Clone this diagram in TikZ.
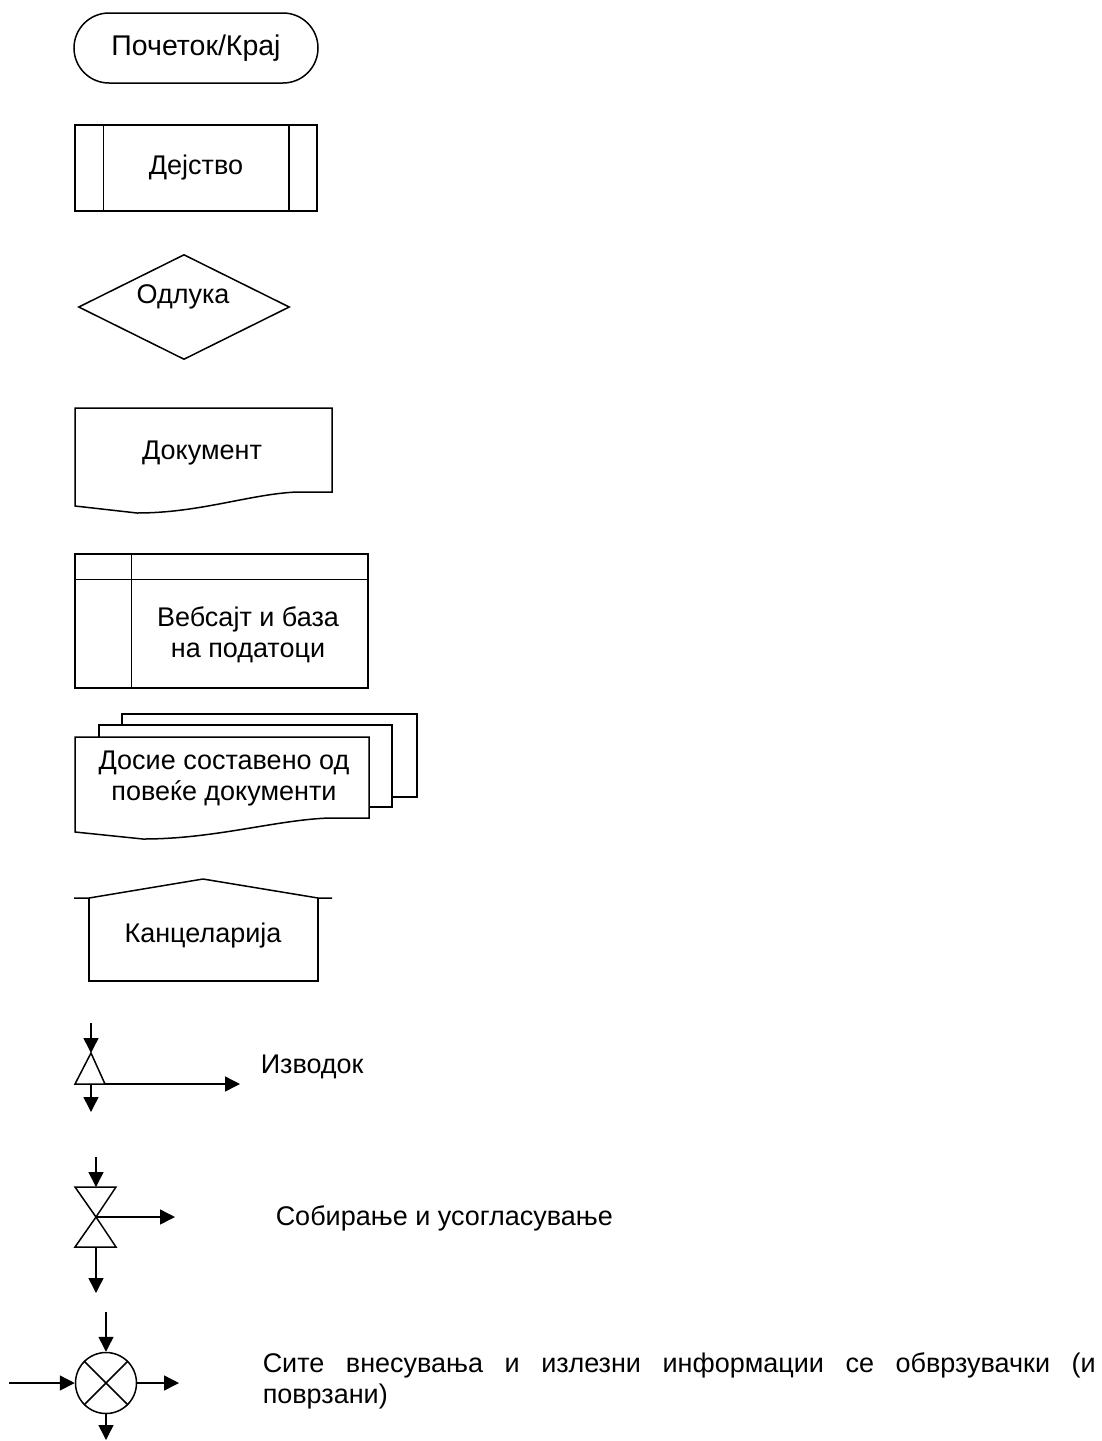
\documentclass[tikz,border=0pt]{standalone}
\usepackage{fontspec}
\setmainfont{Liberation Sans}
\usetikzlibrary{shapes.geometric,arrows.meta}

\begin{document}
\begin{tikzpicture}[x=1pt,y=-1pt,line width=1.5pt,font=\fontsize{27}{31}\selectfont] % легенда на симболи
\tikzstyle{mybox} = [draw, rectangle, inner sep=0pt] % обична рамка
\tikzstyle{myterm} = [draw, rectangle, rounded corners=35pt, minimum width=244pt, minimum height=70pt] % почеток/крај
\tikzstyle{mydec} = [draw, diamond, inner sep=0pt, minimum width=211pt, minimum height=105pt] % одлука
\tikzstyle{myarr} = [-{Triangle[length=15pt,width=15pt]}] % стрелка
\tikzstyle{mylabel} = [anchor=base west, inner sep=0pt] % текст десно од симболот
\useasboundingbox (0,0) rectangle (1102,1441);

\node[myterm, font=\fontsize{28.5}{32}\selectfont] (start) at (196,48) {Почеток/Крај};

\node[mybox, minimum width=242pt, minimum height=86pt] (act) at (196,168) {Дејство};
\draw ([xshift=29pt]act.north west) -- ([xshift=29pt]act.south west);
\draw ([xshift=-29pt]act.north east) -- ([xshift=-29pt]act.south east);

\node[mydec] (dec) at (184,307) {};
\node (dec-t) at (183,297) {Одлука};

% документ
\draw (75,408) -- (332,408) -- (332,492) -- (297,492) .. controls (250,494) and (200,513) .. (137,513) -- (75,506) -- cycle;
\node (doc-t) at (202,453) {Документ};

\node[mybox, minimum width=293pt, minimum height=134pt] (db) at (221.5,621) {};
\draw ([yshift=-26pt]db.north west) -- ([yshift=-26pt]db.north east);
\draw ([xshift=57pt]db.north west) -- ([xshift=57pt]db.south west);
\node[align=center] (db-t) at (248,635) {Вебсајт и база\\на податоци};

% досие
\draw (122,725) -- (122,714) -- (417,714) -- (417,797) -- (392,797);
\draw (99,737) -- (99,725) -- (392,725) -- (392,807) -- (369,807);
\draw (75,737) -- (369,737) -- (369,818) -- (329,818) .. controls (275,820) and (215,839) .. (143,839) -- (75,832) -- cycle;
\node[align=center] (file-t) at (224,779) {Досие составено од\\повеќе документи};

% канцеларија
\draw (74,898) -- (89,898) -- (203,879) -- (318,898) -- (332,898);
\draw (89,898) -- (89,981) -- (318,981) -- (318,898);
\node (off-t) at (203,936) {Канцеларија};

% изводок
\coordinate (ex-in) at (91,1023);
\coordinate (ex-top) at (91,1053);
\coordinate (ex-l) at (75,1084);
\coordinate (ex-r) at (105,1084);
\coordinate (ex-b) at (91,1084);
\coordinate (ex-out) at (91,1112);
\coordinate (ex-side) at (240,1084);
\draw (ex-top) -- (ex-l) -- (ex-r) -- cycle;
\draw[myarr] (ex-in) -- (ex-top);
\draw[myarr] (ex-r) -- (ex-side);
\draw[myarr] (ex-b) -- (ex-out);
\node[mylabel] (ex-t) at (260,1073) {Изводок};

% собирање
\coordinate (mg-in) at (96,1157);
\coordinate (mg-t) at (96,1187);
\coordinate (mg-tl) at (75,1187);
\coordinate (mg-tr) at (116,1187);
\coordinate (mg-c) at (96,1217);
\coordinate (mg-bl) at (75,1247);
\coordinate (mg-br) at (116,1247);
\coordinate (mg-b) at (96,1247);
\coordinate (mg-out) at (96,1293);
\coordinate (mg-side) at (175,1217);
\draw (mg-tl) -- (mg-tr) -- (mg-c) -- cycle;
\draw (mg-c) -- (mg-bl) -- (mg-br) -- cycle;
\draw[myarr] (mg-in) -- (mg-t);
\draw[myarr] (mg-c) -- (mg-side);
\draw[myarr] (mg-b) -- (mg-out);
\node[mylabel] (mg-txt) at (275,1225) {Собирање и усогласување};

% поврзување
\node[draw, circle, minimum size=61pt, inner sep=0pt] (conn) at (106,1383) {};
\draw (conn.north west) -- (conn.south east);
\draw (conn.north east) -- (conn.south west);
\coordinate (cn-in) at (106,1312);
\coordinate (cn-left) at (9,1383);
\coordinate (cn-right) at (179,1383);
\coordinate (cn-out) at (106,1440);
\draw[myarr] (cn-in) -- (conn.north);
\draw[myarr] (cn-left) -- (conn.west);
\draw[myarr] (conn.east) -- (cn-right);
\draw[myarr] (conn.south) -- (cn-out);
\node[anchor=north west, inner sep=0pt, text width=833pt, align=justify] (cn-t) at (262,1352) {Сите внесувања и излезни информации се обврзувачки (и\linebreak поврзани)};
\end{tikzpicture}
\end{document}
